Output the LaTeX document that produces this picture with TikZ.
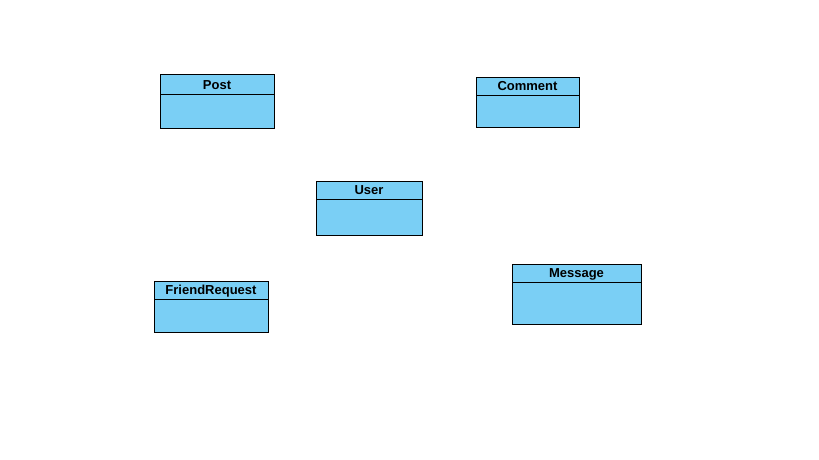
\documentclass[tikz,border=0pt]{standalone}
\usepackage{fontspec}
\setmainfont{Liberation Sans}
\usepackage{xcolor}
\usetikzlibrary{positioning}
\definecolor{classblue}{RGB}{122,207,245}

\begin{document}
\begin{tikzpicture}[x=1pt, y=-1pt,
    every node/.style={font=\fontsize{13}{15}\selectfont\bfseries},
    classhead/.style={draw, line width=1pt, fill=classblue, inner sep=0pt, outer sep=0pt,
        text height=9.3pt, text depth=0pt, anchor=north west},
    classbody/.style={draw, line width=1pt, fill=classblue, inner sep=0pt, outer sep=0pt, anchor=north}]
    \useasboundingbox (0,0) rectangle (819,460);

    \node[classhead, minimum width=114pt, minimum height=19pt] (post) at (160,75) {Post};
    \node[classbody, minimum width=114pt, minimum height=34pt] (postbody) at (post.south) {};

    \node[classhead, minimum width=103pt, minimum height=18pt] (comment) at (476,77) {Comment};
    \node[classbody, minimum width=103pt, minimum height=32pt] (commentbody) at (comment.south) {};

    \node[classhead, minimum width=106pt, minimum height=18pt] (user) at (316,181) {User};
    \node[classbody, minimum width=106pt, minimum height=36pt] (userbody) at (user.south) {};

    \node[classhead, minimum width=114pt, minimum height=18pt] (friendreq) at (154,281) {FriendRequest};
    \node[classbody, minimum width=114pt, minimum height=33pt] (friendreqbody) at (friendreq.south) {};

    \node[classhead, minimum width=129pt, minimum height=18pt] (message) at (512,264) {Message};
    \node[classbody, minimum width=129pt, minimum height=42pt] (messagebody) at (message.south) {};
\end{tikzpicture}
\end{document}
